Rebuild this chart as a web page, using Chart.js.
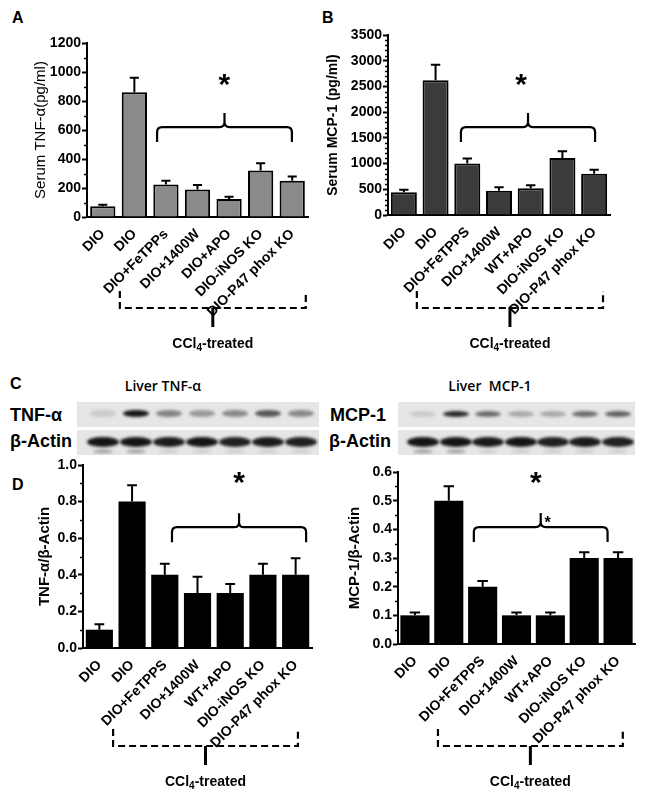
<!DOCTYPE html>
<html>
<head>
<meta charset="utf-8">
<script src="https://cdn.jsdelivr.net/npm/chart.js@4.4.1/dist/chart.umd.min.js"></script>
<style>
  body { margin: 0; background: #fff; width: 651px; height: 801px; position: relative; overflow: hidden; font-family: "Liberation Sans", Arial, sans-serif; }
  canvas { position: absolute; }
  .letter { position: absolute; font: bold 16px "Liberation Sans", Arial, sans-serif; }
  .blotlbl { position: absolute; font: bold 18px "Liberation Sans", Arial, sans-serif; }
  .blottitle { position: absolute; font: 600 14px "Open Sans", sans-serif; text-align: center; width: 200px; }
  .strip { position: absolute; background: #e6e6e6; overflow: hidden; }
  .band { position: absolute; border-radius: 50%; filter: blur(1.6px); }
</style>
</head>
<body>
<div class="letter" style="left:12px;top:9px">A</div>
<div class="letter" style="left:322px;top:9px">B</div>
<div class="letter" style="left:10px;top:375px">C</div>
<div class="letter" style="left:12px;top:476px">D</div>

<div class="blottitle" style="left:63px;top:376px">Liver TNF-α</div>
<div class="blottitle" style="left:390px;top:376px">Liver&nbsp; MCP-1</div>
<div class="blotlbl" style="left:10px;top:405px">TNF-α</div>
<div class="blotlbl" style="left:10px;top:431px">β-Actin</div>
<div class="blotlbl" style="left:330px;top:405px">MCP-1</div>
<div class="blotlbl" style="left:329px;top:431px">β-Actin</div>
<div id="blots"></div>

<canvas id="chartA" width="325" height="360" style="left:0;top:0"></canvas>
<canvas id="chartB" width="326" height="360" style="left:325px;top:0"></canvas>
<canvas id="chartC" width="325" height="346" style="left:0;top:455px"></canvas>
<canvas id="chartD" width="326" height="346" style="left:325px;top:455px"></canvas>

<script>
// ---- data ----
const labelsA = ["DIO", "DIO", "DIO+FeTPPs", "DIO+1400W", "DIO+APO", "DIO-iNOS KO", "DIO-P47 phox KO"];
const labelsB = ["DIO", "DIO", "DIO+FeTPPS", "DIO+1400W", "WT+APO", "DIO-iNOS KO", "DIO-P47 phox KO"];

const tnfSerum = [75, 860, 225, 190, 125, 320, 250];
const tnfSerumErr = [10, 100, 25, 30, 15, 50, 30];

const mcpSerum = [440, 2620, 1000, 470, 520, 1110, 800];
const mcpSerumErr = [50, 300, 100, 70, 60, 130, 80];

const tnfLiver = [0.1, 0.8, 0.4, 0.3, 0.3, 0.4, 0.4];
const tnfLiverErr = [0.03, 0.09, 0.06, 0.09, 0.05, 0.06, 0.09];

const mcpLiver = [0.1, 0.5, 0.2, 0.1, 0.1, 0.3, 0.3];
const mcpLiverErr = [0.01, 0.05, 0.02, 0.01, 0.01, 0.02, 0.02];

// western blot band strengths (0..1) per lane
const tnfBands = [0.12, 0.95, 0.45, 0.35, 0.42, 0.65, 0.42];
const mcpBands = [0.12, 0.85, 0.55, 0.28, 0.28, 0.55, 0.6];
const actinBands = [0.95, 0.95, 0.92, 0.95, 0.9, 0.92, 0.9];

// ---- blots ----
function strip(left, top, w, h, bands, bw, bh, lower) {
  const s = document.createElement('div');
  s.className = 'strip';
  s.style.cssText = `left:${left}px;top:${top}px;width:${w}px;height:${h}px`;
  const step = w / 7.3;
  bands.forEach((v, i) => {
    const b = document.createElement('div');
    b.className = 'band';
    const cx = 0.15 * step + step * (i + 0.5) + 4;
    b.style.cssText = `left:${cx - bw / 2}px;top:${h / 2 - bh / 2 - 1}px;width:${bw}px;height:${bh}px;background:rgba(10,10,10,${v})`;
    s.appendChild(b);
    if (lower) {
      const c = document.createElement('div');
      c.className = 'band';
      c.style.cssText = `left:${cx - 10}px;top:${h - 5}px;width:20px;height:3px;background:rgba(60,60,60,${i < 2 ? 0.5 : 0.18})`;
      s.appendChild(c);
    }
  });
  document.getElementById('blots').appendChild(s);
}
strip(77, 402, 242, 25, tnfBands, 26, 7, false);
strip(77, 430, 242, 25, actinBands, 32, 10, true);
strip(398, 402, 237, 25, mcpBands, 26, 6, false);
strip(398, 430, 237, 25, actinBands, 32, 10, true);

// ---- annotations: error bars, minor ticks, brackets ----
const annot = {
  id: 'annot',
  afterDraw(chart, args, o) {
    const ctx = chart.ctx, x = chart.scales.x, y = chart.scales.y;
    const meta = chart.getDatasetMeta(0);
    ctx.save();
    ctx.strokeStyle = '#000';
    ctx.fillStyle = '#000';
    ctx.lineWidth = 2;

    meta.data.forEach((bar, i) => {
      const top = y.getPixelForValue(o.values[i] + o.errors[i]);
      const cw = bar.width * 0.36;
      ctx.beginPath();
      ctx.moveTo(bar.x, bar.y);
      ctx.lineTo(bar.x, top);
      ctx.moveTo(bar.x - cw / 2, top);
      ctx.lineTo(bar.x + cw / 2, top);
      ctx.stroke();
    });

    // minor ticks
    ctx.lineWidth = 1.5;
    for (let v = o.minor; v < y.max - 1e-9; v += o.minor) {
      const r = v / o.major;
      if (Math.abs(r - Math.round(r)) < 1e-6) continue;
      const py = Math.round(y.getPixelForValue(v)) + 0.5;
      ctx.beginPath();
      ctx.moveTo(y.right - 3, py);
      ctx.lineTo(y.right, py);
      ctx.stroke();
    }

    // curly bracket
    ctx.lineWidth = 2.2;
    const bl = x.getPixelForValue(o.bracket[0]);
    const br = x.getPixelForValue(o.bracket[1]);
    const by = y.getPixelForValue(o.bracketY);
    const mid = (bl + br) / 2;
    ctx.beginPath();
    ctx.moveTo(bl, by + 15);
    ctx.lineTo(bl, by + 5);
    ctx.quadraticCurveTo(bl, by, bl + 5, by);
    ctx.lineTo(mid - 5, by);
    ctx.quadraticCurveTo(mid, by, mid, by - 5);
    ctx.lineTo(mid, by - 14);
    ctx.moveTo(mid, by - 5);
    ctx.quadraticCurveTo(mid, by, mid + 5, by);
    ctx.lineTo(br - 5, by);
    ctx.quadraticCurveTo(br, by, br, by + 5);
    ctx.lineTo(br, by + 15);
    ctx.stroke();

    ctx.font = 'bold 30px "Liberation Sans", Arial';
    ctx.textAlign = 'center';
    ctx.textBaseline = 'middle';
    ctx.fillText('*', x.getPixelForValue(o.star), y.getPixelForValue(o.starY) + 6);
    if (o.smallStar) {
      ctx.font = 'bold 16px "Liberation Sans", Arial';
      ctx.fillText('*', mid + 7, by - 3);
    }

    // dashed bracket for treated groups
    const dl = x.getPixelForValue(o.dash[0]);
    const dr = x.getPixelForValue(o.dash[1]);
    const dy = y.bottom + o.dashY;
    const dm = (dl + dr) / 2;
    ctx.lineWidth = 2.2;
    ctx.setLineDash([7, 4]);
    ctx.beginPath();
    ctx.moveTo(dl, dy - 17);
    ctx.lineTo(dl, dy);
    ctx.lineTo(dr, dy);
    ctx.lineTo(dr, dy - 17);
    ctx.stroke();
    ctx.setLineDash([]);
    ctx.lineWidth = 3;
    ctx.beginPath();
    ctx.moveTo(dm, dy);
    ctx.lineTo(dm, dy + 19);
    ctx.stroke();

    ctx.textBaseline = 'alphabetic';
    ctx.textAlign = 'left';
    const big = '600 14px "Liberation Sans", Arial', small = '600 10px "Liberation Sans", Arial';
    const t1 = 'CCl', t2 = '4', t3 = '-treated';
    ctx.font = big;
    const w1 = ctx.measureText(t1).width, w3 = ctx.measureText(t3).width;
    ctx.font = small;
    const w2 = ctx.measureText(t2).width;
    const tx = dm - (w1 + w2 + w3) / 2;
    const ty = dy + 40;
    ctx.font = big;
    ctx.fillText(t1, tx, ty);
    ctx.font = small;
    ctx.fillText(t2, tx + w1, ty + 3);
    ctx.font = big;
    ctx.fillText(t3, tx + w1 + w2, ty);
    ctx.restore();
  }
};

Chart.defaults.font.family = '"Liberation Sans", Arial, sans-serif';
Chart.defaults.color = '#000';

function makeChart(id, p) {
  return new Chart(document.getElementById(id), {
    type: 'bar',
    data: {
      labels: p.labels,
      datasets: [{
        data: p.values,
        backgroundColor: p.color,
        borderColor: '#000',
        borderWidth: p.border,
        barPercentage: p.barPct,
        categoryPercentage: 1
      }]
    },
    options: {
      responsive: false,
      animation: false,
      devicePixelRatio: 1,
      layout: { padding: { top: p.padTop, right: p.padRight, left: 0, bottom: 0 } },
      plugins: {
        legend: { display: false },
        tooltip: { enabled: false },
        annot: {
          values: p.values, errors: p.errors, major: p.step, minor: p.minor,
          bracket: p.bracket, bracketY: p.bracketY, star: p.star, starY: p.starY,
          smallStar: p.smallStar, dash: p.dash, dashY: p.dashY
        }
      },
      scales: {
        x: {
          grid: { display: false },
          border: { display: true, color: '#000', width: 2 },
          ticks: { autoSkip: false, maxRotation: 45, minRotation: 45, padding: 1, font: { size: 14, weight: 'bold' } },
          afterFit: s => { s.height = p.xHeight; }
        },
        y: {
          min: 0, max: p.max,
          grid: { drawOnChartArea: false, drawTicks: true, tickLength: 5, tickWidth: 2, tickColor: '#000' },
          border: { display: true, color: '#000', width: 2 },
          ticks: { stepSize: p.step, padding: 1, font: { size: 14, weight: 'bold' }, callback: p.fmt },
          title: { display: true, text: p.title, font: { size: p.titleSize, weight: p.titleWeight }, padding: { top: p.titlePad, bottom: 0 } },
          afterFit: s => { s.width = p.yWidth; }
        }
      }
    },
    plugins: [annot]
  });
}

makeChart('chartA', {
  labels: labelsA, values: tnfSerum, errors: tnfSerumErr, color: '#8a8a8a', border: 2, barPct: 0.8,
  max: 1200, step: 200, minor: 100, fmt: v => v,
  title: 'Serum TNF-α(pg/ml)', titleWeight: 'normal', titleSize: 15, titlePad: 32,
  yWidth: 87, xHeight: 143, padTop: 43, padRight: 17,
  bracket: [1.72, 5.99], bracketY: 620, star: 3.85, starY: 945,
  dash: [0.54, 6.43], dashY: 91
});

makeChart('chartB', {
  labels: labelsB, values: mcpSerum, errors: mcpSerumErr, color: '#3b3b3b', border: 2, barPct: 0.82,
  max: 3500, step: 500, minor: 100, fmt: v => v,
  title: 'Serum MCP-1 (pg/ml)', titleWeight: 'bold', titleSize: 14, titlePad: 0,
  yWidth: 63, xHeight: 145, padTop: 35, padRight: 41,
  bracket: [1.8, 6.03], bracketY: 1710, star: 3.7, starY: 2625,
  dash: [0.41, 6.28], dashY: 93
});

makeChart('chartC', {
  labels: labelsB, values: tnfLiver, errors: tnfLiverErr, color: '#000', border: 0, barPct: 0.83,
  max: 1.0, step: 0.2, minor: 0.1, fmt: v => v.toFixed(1),
  title: 'TNF-α/β-Actin', titleWeight: 'bold', titleSize: 15, titlePad: 36,
  yWidth: 83, xHeight: 153, padTop: 10, padRight: 13,
  bracket: [2.22, 6.32], bracketY: 0.66, star: 4.27, starY: 0.93,
  dash: [0.42, 6.07], dashY: 98
});

makeChart('chartD', {
  labels: labelsB, values: mcpLiver, errors: mcpLiverErr, color: '#000', border: 0, barPct: 0.86,
  max: 0.6, step: 0.1, minor: 0.05, fmt: v => v.toFixed(1),
  title: 'MCP-1/β-Actin', titleWeight: 'bold', titleSize: 15, titlePad: 21,
  yWidth: 73, xHeight: 157, padTop: 17, padRight: 16,
  bracket: [1.74, 5.69], bracketY: 0.408, star: 3.57, starY: 0.579, smallStar: true,
  dash: [0.68, 6.14], dashY: 102
});
</script>
</body>
</html>
